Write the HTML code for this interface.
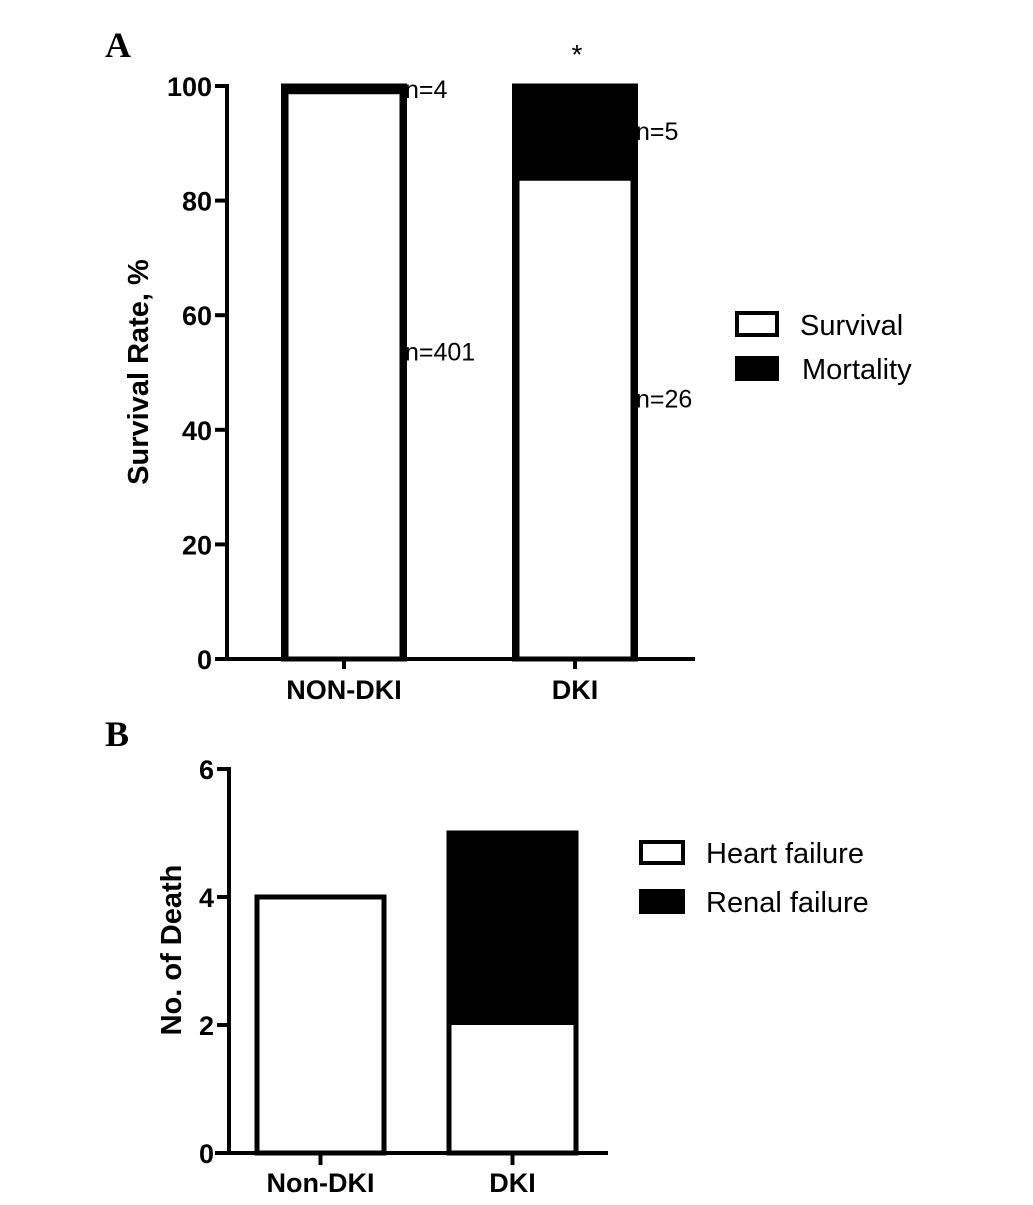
<!DOCTYPE html>
<html><head><meta charset="utf-8"><style>body{margin:0;background:#fff}svg{display:block}text{font-family:"Liberation Sans",Arial,sans-serif}text.serif{font-family:"Liberation Serif",serif}</style></head>
<body>
<svg id="chart" width="1033" height="1205" xmlns="http://www.w3.org/2000/svg"></svg>
<script>
const catsA=["NON-DKI","DKI"];
const survA=[99.0,83.9];
const mortA=[1.0,16.1];
const labSurvA=["n=401","n=26"];
const labMortA=["n=4","n=5"];
const ticksA=[0,20,40,60,80,100];
const catsB=["Non-DKI","DKI"];
const heartB=[4,2];
const renalB=[0,3];
const ticksB=[0,2,4,6];
const svg=document.getElementById('chart');
const NS="http://www.w3.org/2000/svg";
function mk(t,a,txt){const e=document.createElementNS(NS,t);for(const k in a)e.setAttribute(k,a[k]);if(txt!==undefined)e.textContent=txt;svg.appendChild(e);return e;}
// Panel A
const yA=v=>659-v*5.73;
const barXA=[286,517],bwA=116;
let e;
e=mk('text',{x:105,y:57,'font-size':36,'font-weight':'bold','class':'serif'},'A');

e=mk('line',{x1:227,y1:yA(100)-2,x2:227,y2:661,stroke:'#000','stroke-width':4});

e=mk('line',{x1:215,y1:659,x2:695,y2:659,stroke:'#000','stroke-width':4});

ticksA.forEach(t=>{
 e=mk('line',{x1:215,y1:yA(t),x2:227,y2:yA(t),stroke:'#000','stroke-width':4});
 
 e=mk('text',{x:212,y:yA(t)+10,'font-size':27,'font-weight':'bold','text-anchor':'end'},t);
 
});
e=mk('text',{x:0,y:0,'font-size':29,'font-weight':'bold','text-anchor':'middle',transform:'translate(148,372) rotate(-90)'},'Survival Rate, %');

catsA.forEach((c,i)=>{
 const x=barXA[i],top=yA(survA[i]+mortA[i]),mid=yA(survA[i]);
 e=mk('rect',{x:x,y:top,width:bwA,height:mid-top,fill:'#000'});
 
 e=mk('rect',{x:x,y:mid,width:bwA,height:659-mid,fill:'#fff',stroke:'#000','stroke-width':5});
 
 e=mk('rect',{x:x-2.5,y:top,width:bwA+5,height:659-top,fill:'none',stroke:'#000','stroke-width':5});
 
 e=mk('line',{x1:x+bwA/2,y1:659,x2:x+bwA/2,y2:669,stroke:'#000','stroke-width':4});
 
 e=mk('text',{x:x+bwA/2,y:699,'font-size':27,'font-weight':'bold','text-anchor':'middle'},c);
 
 e=mk('text',{x:x+bwA+3,y:mid+0.46*(659-mid)+8,'font-size':25},labSurvA[i]);
 
 e=mk('text',{x:x+bwA+3,y:Math.max(top+12,(top+mid)/2+8),'font-size':25},labMortA[i]);
 
});
e=mk('text',{x:577,y:64,'font-size':28,'text-anchor':'middle'},'*');

e=mk('rect',{x:737,y:313,width:40,height:22,fill:'#fff',stroke:'#000','stroke-width':4});

e=mk('text',{x:800,y:335,'font-size':29},'Survival');

e=mk('rect',{x:735,y:356,width:44,height:25,fill:'#000'});

e=mk('text',{x:802,y:379,'font-size':29},'Mortality');

// Panel B
const yB=v=>1153-v*64;
const barXB=[257,449],bwB=127;
e=mk('text',{x:105,y:746,'font-size':36,'font-weight':'bold','class':'serif'},'B');

e=mk('line',{x1:229,y1:yB(6)-2,x2:229,y2:1155,stroke:'#000','stroke-width':4});

e=mk('line',{x1:215,y1:1153,x2:608,y2:1153,stroke:'#000','stroke-width':4});

ticksB.forEach(t=>{
 e=mk('line',{x1:217,y1:yB(t),x2:229,y2:yB(t),stroke:'#000','stroke-width':4});
 
 e=mk('text',{x:214,y:yB(t)+10,'font-size':27,'font-weight':'bold','text-anchor':'end'},t);
 
});
e=mk('text',{x:0,y:0,'font-size':29,'font-weight':'bold','text-anchor':'middle',transform:'translate(181,950) rotate(-90)'},'No. of  Death');

catsB.forEach((c,i)=>{
 const x=barXB[i],top=yB(heartB[i]+renalB[i]),mid=yB(heartB[i]);
 e=mk('rect',{x:x,y:top,width:bwB,height:mid-top,fill:'#000'});
 
 e=mk('rect',{x:x,y:mid,width:bwB,height:1153-mid,fill:'#fff'});
 
 e=mk('rect',{x:x,y:top,width:bwB,height:1153-top,fill:'none',stroke:'#000','stroke-width':5});
 
 e=mk('line',{x1:x+bwB/2,y1:1153,x2:x+bwB/2,y2:1165,stroke:'#000','stroke-width':4});
 
 e=mk('text',{x:x+bwB/2,y:1192,'font-size':27,'font-weight':'bold','text-anchor':'middle'},c);
 
});
e=mk('rect',{x:641,y:842,width:42,height:21,fill:'#fff',stroke:'#000','stroke-width':4});

e=mk('text',{x:706,y:863,'font-size':29},'Heart failure');

e=mk('rect',{x:639,y:889,width:46,height:25,fill:'#000'});

e=mk('text',{x:706,y:912,'font-size':29},'Renal failure');

</script>
</body></html>
